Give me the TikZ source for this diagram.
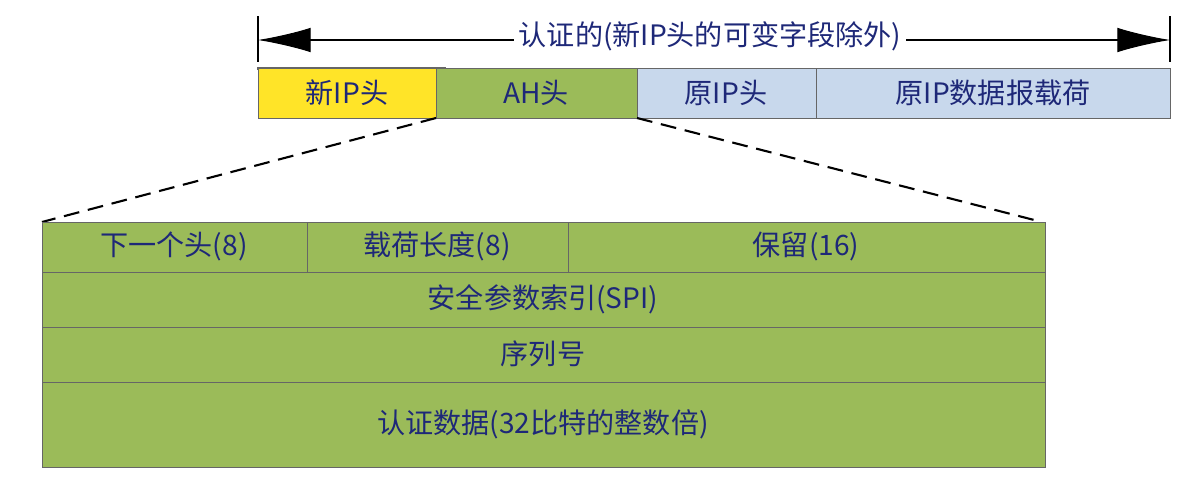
\documentclass[tikz,border=0pt]{standalone}
\usepackage{fontspec}
\setmainfont{Liberation Serif}
\newfontfamily\cjk{Noto Sans CJK SC}
\usetikzlibrary{arrows.meta}
\definecolor{grn}{RGB}{155,187,89}
\definecolor{ylw}{RGB}{255,228,40}
\definecolor{lbl}{RGB}{200,216,236}
\definecolor{txt}{RGB}{30,40,120}
\begin{document}
\begin{tikzpicture}[x=0.02cm,y=-0.02cm,
  cell/.style={draw=black!60,line width=0.6pt,anchor=north west,inner sep=0,outer sep=0,text=txt,font=\cjk\fontsize{16}{18}\selectfont}]
\useasboundingbox (0,0) rectangle (1190,494);
\fill[white] (0,0) rectangle (1190,494);
% top arrow
\coordinate (L) at (258,40); \coordinate (R) at (1170,40);
\draw[line width=0.6pt] (258,16) -- (258,62) (1170,16) -- (1170,62);
\draw[line width=0.6pt,{Latex[length=30pt,width=14pt]}-{Latex[length=30pt,width=14pt]}] (L) -- (R);
\node[fill=white,text=txt,font=\cjk\fontsize{16}{18}\selectfont,inner sep=3pt] (lab) at (710,36) {认证的(新IP头的可变字段除外)};
% header row
\node[cell,fill=ylw,minimum width=178\pgflinewidth,text width=0] (n1) at (258,68) {};
\path[draw=black!60,fill=ylw] (258,68) rectangle (436,118);
\path[draw=black!60,fill=grn] (436,68) rectangle (637,118);
\path[draw=black!60,fill=lbl] (637,68) rectangle (816,118);
\path[draw=black!60,fill=lbl] (816,68) rectangle (1170,118);
\tikzset{t/.style={text=txt,font=\cjk\fontsize{16}{18}\selectfont}}
\node[t] (a) at (347,93) {新IP头};
\node[t] (b) at (536,93) {AH头};
\node[t] (c) at (726,93) {原IP头};
\node[t] (d) at (993,93) {原IP数据报载荷};
\coordinate (ahl) at (436,118); \coordinate (ahr) at (637,118);
\coordinate (tl) at (42,222); \coordinate (tr) at (1042,222);
\draw[dashed,line width=1.2pt,dash pattern=on 9pt off 5pt] (ahl) -- (tl);
\draw[dashed,line width=1.2pt,dash pattern=on 9pt off 5pt] (ahr) -- (tr);
% table
\path[draw=black!60,fill=grn] (42,222) rectangle (307,272);
\path[draw=black!60,fill=grn] (307,222) rectangle (568,272);
\path[draw=black!60,fill=grn] (568,222) rectangle (1045,272);
\path[draw=black!60,fill=grn] (42,272) rectangle (1045,327);
\path[draw=black!60,fill=grn] (42,327) rectangle (1045,382);
\path[draw=black!60,fill=grn] (42,382) rectangle (1045,467);
\node[t] (e) at (174,246) {下一个头(8)};
\node[t] (f) at (437,246) {载荷长度(8)};
\node[t] (g) at (806,246) {保留(16)};
\node[t] (h) at (543,299) {安全参数索引(SPI)};
\node[t] (i) at (543,354) {序列号};
\node[t] (j) at (543,424) {认证数据(32比特的整数倍)};
\end{tikzpicture}
\end{document}
